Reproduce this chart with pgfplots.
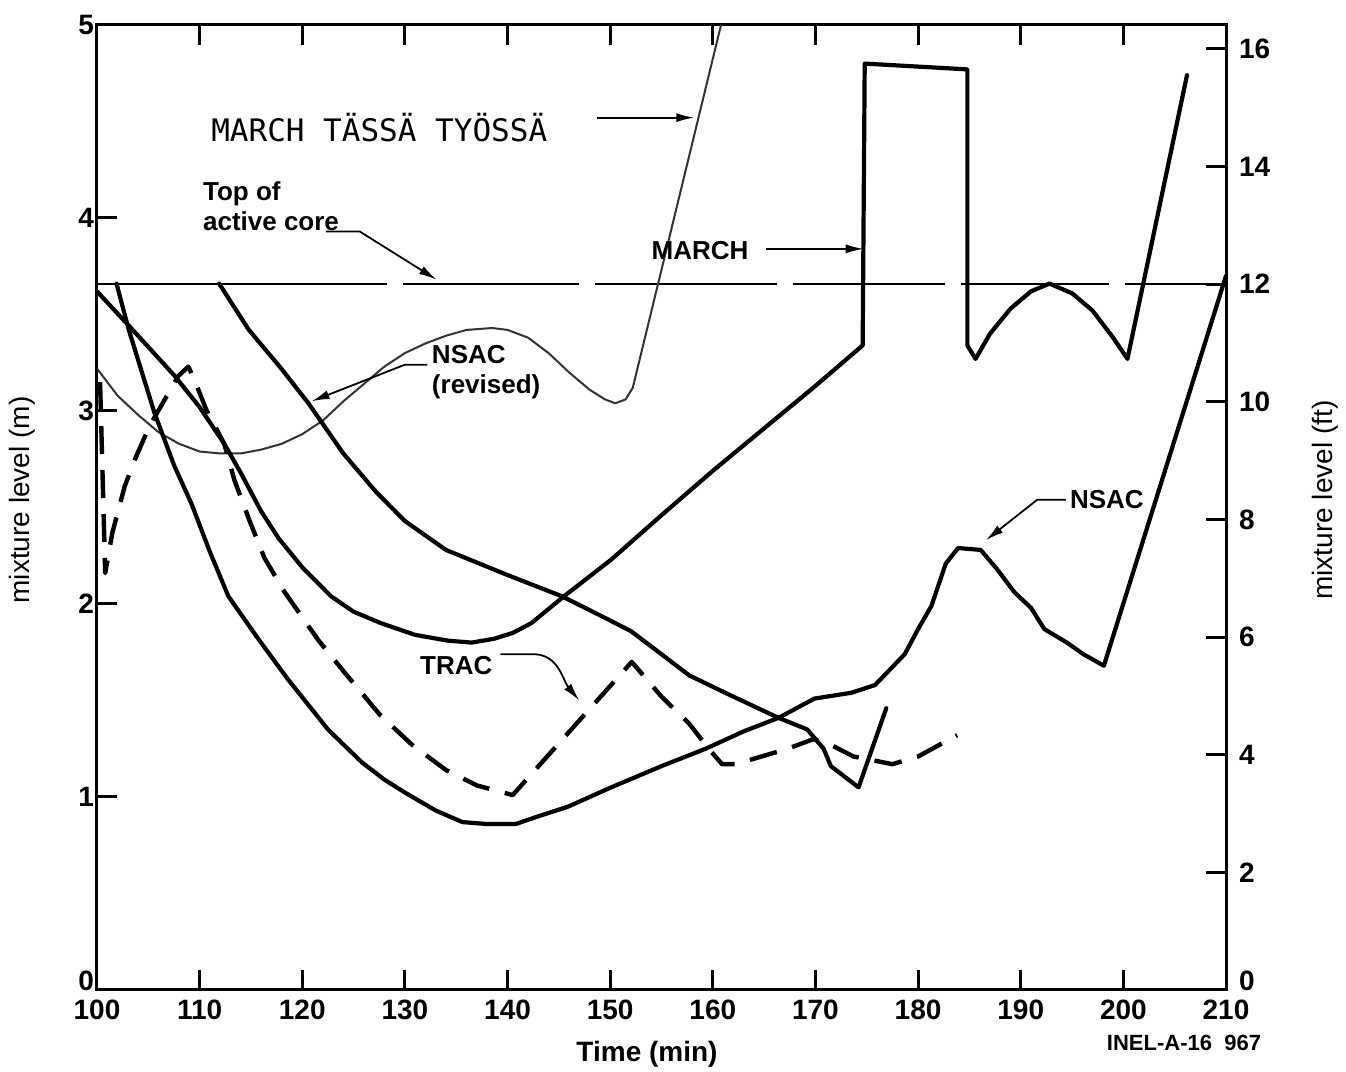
\documentclass[border=0pt]{standalone}
\usepackage{pgfplots}
\pgfplotsset{compat=1.18}
\usepackage{fontspec}
\setmainfont{Liberation Sans}
\newfontfamily\monofont{DejaVu Sans Mono}
\usetikzlibrary{arrows.meta}
\tikzset{
  thk/.style={black, line width=2.1pt, line join=round, line cap=round},
  thn/.style={black!80, line width=1pt, line join=round},
  ann/.style={black, line width=0.9pt, -{Latex[length=9pt,width=4.5pt]}},
  lbl/.style={font=\fontsize{13}{15}\selectfont\bfseries, inner sep=0pt, align=left},
}
\begin{document}
\begin{tikzpicture}
\path[use as bounding box] (-48.5pt,-41pt) rectangle (624.5pt,495pt);
\begin{axis}[
  at={(0pt,0pt)}, anchor=south west,
  scale only axis, width=564.5pt, height=482.5pt,
  xmin=100, xmax=210, ymin=0, ymax=5,
  xtick={100,110,...,210}, ytick={0,1,...,5},
  yticklabels={\raisebox{-0.5pt}[0pt][0pt]{0},1,2,3,4,5},
  xtick pos=both, xticklabel pos=bottom, ytick pos=left,
  tick align=inside,
  major tick length=10pt,
  every tick/.style={black, line width=1.5pt},
  axis line style={line width=1.5pt},
  ticklabel style={font=\fontsize{14}{14}\selectfont\bfseries},
  xticklabel style={yshift=-1.5pt},
  yticklabel style={xshift=2pt},
  /pgf/number format/assume math mode=true,
]
% top of active core
\addplot[black, line width=1.2pt, dash pattern=on 145pt off 8pt on 88pt off 8pt on 91pt off 8pt on 76pt off 8pt on 74pt off 8pt on 200pt off 0pt] coordinates {(100,3.658) (210,3.658)};
% NSAC revised (thin) + MARCH this work steep line
\addplot[thn] coordinates {
(100,3.22) (102,3.08) (104,2.98) (106,2.89) (108,2.83) (110,2.79) (112,2.78) (114,2.78)
(116,2.80) (118,2.83) (120,2.88) (122,2.95) (124,3.05) (126,3.14) (128,3.23) (130,3.30)
(132,3.35) (134,3.39) (136,3.42) (138.5,3.43) (140,3.42) (142,3.38) (144,3.30) (146,3.20)
(148,3.11) (149.5,3.06) (150.5,3.04) (151.5,3.06) (152.2,3.12) (160.8,5.0)};
% MARCH thick
\addplot[thk] coordinates {
(100,3.62) (104,3.39) (107.6,3.18) (110,3.02) (112.4,2.83) (114,2.68) (116,2.48) (117.7,2.34)
(120,2.19) (122.8,2.04) (125,1.96) (127.7,1.90) (131,1.84) (134.2,1.81) (136.5,1.80)
(138.7,1.82) (140.5,1.85) (142.3,1.90) (145.5,2.04) (150.1,2.23) (155,2.46) (160,2.69)
(165,2.91) (170,3.13) (174.6,3.34) (174.8,4.80) (184.8,4.77) (184.8,3.34) (185.6,3.27)
(187,3.40) (189,3.53) (191,3.62) (192.8,3.66) (195,3.61) (197,3.52) (199,3.38) (200.4,3.27)
(206.2,4.74)};
% NSAC thick (lowest early)
\addplot[thk] coordinates {
(101.9,3.66) (103.1,3.42) (105.6,2.99) (107.5,2.72) (109.2,2.52) (111,2.27) (112.8,2.04)
(115.7,1.82) (118.6,1.61) (122.5,1.35) (125.8,1.18) (128,1.09) (130.1,1.02)
(133,0.93) (135.6,0.87) (138,0.86) (140.8,0.86) (143,0.90) (145.9,0.95) (150.1,1.05)
(155,1.16) (159.3,1.25) (163,1.34) (166.4,1.41) (169.9,1.51) (173.5,1.54) (175.8,1.58)
(178.7,1.74) (180,1.87) (181.3,1.99) (182.7,2.21) (183.9,2.29) (186.1,2.28) (187.7,2.18)
(189.4,2.06) (191,1.98) (192.3,1.87) (194.5,1.80) (196.1,1.74) (198.1,1.68) (210,3.70)};
% third thick curve
\addplot[thk] coordinates {
(111.9,3.66) (114.8,3.42) (117.8,3.23) (120.6,3.04) (124,2.78) (127.2,2.58) (130,2.43)
(134,2.28) (140,2.15) (145.3,2.04) (149.8,1.92) (152,1.86)
(154.5,1.76) (157.7,1.63) (161.6,1.53) (166.4,1.41) (169.2,1.35) (170.8,1.25) (171.5,1.16)
(174.2,1.05) (176.9,1.46)};
% TRAC dashed
\addplot[black, line width=2.2pt, dash pattern=on 14pt off 8pt, line join=round] coordinates {
(100.3,3.15) (100.8,2.16) (101.5,2.37) (102.7,2.61) (103.7,2.75) (105.1,2.92) (107.9,3.18)
(108.9,3.23) (109.5,3.16) (110.7,3.00) (112.4,2.83) (113.4,2.64) (114.8,2.44) (116.3,2.24)
(118.3,2.06) (121.6,1.81) (124.2,1.64) (127.5,1.43) (130.7,1.27) (134,1.14) (137,1.06)
(140.5,1.01) (152.1,1.70) (155,1.52) (157.7,1.38) (159.6,1.25) (160.9,1.17) (162.2,1.17)
(167.3,1.25) (169.8,1.30) (171.5,1.27) (173.7,1.21) (177.5,1.17) (180,1.21) (183.8,1.32)};
% annotations
\node[font=\monofont\fontsize{15.5}{16}\selectfont, inner sep=0pt] at (axis cs:127.5,4.47) {MARCH TÄSSÄ TYÖSSÄ};
\draw[ann] (axis cs:148.7,4.52) -- (axis cs:158.2,4.52);
\node[lbl, anchor=north west] at (axis cs:110.3,4.19) {Top of\\active core};
\draw[ann] (axis cs:122.3,3.93) -- (axis cs:125.6,3.93) -- (axis cs:133.1,3.68);
\node[lbl, anchor=west] at (axis cs:154.0,3.83) {MARCH};
\draw[ann] (axis cs:165.2,3.84) -- (axis cs:174.7,3.84);
\node[lbl, anchor=north west] at (axis cs:132.6,3.34) {NSAC\\(revised)};
\draw[ann] (axis cs:132.2,3.24) -- (axis cs:130.0,3.24) -- (axis cs:120.9,3.05);
\node[lbl, anchor=center] at (axis cs:135.0,1.68) {TRAC};
\draw[ann] (axis cs:139.3,1.74) -- (axis cs:142.5,1.74) to[out=0,in=130] (axis cs:147.0,1.50);
\node[lbl, anchor=center] at (axis cs:198.4,2.54) {NSAC};
\draw[ann] (axis cs:194.4,2.54) -- (axis cs:191.6,2.54) -- (axis cs:186.6,2.33);
\end{axis}
\begin{axis}[
  at={(0pt,0pt)}, anchor=south west,
  scale only axis, width=564.5pt, height=482.5pt,
  xmin=100, xmax=210, ymin=0, ymax=16.4042,
  axis x line=none, axis y line*=right,
  ytick={0,2,...,16},
  yticklabels={\raisebox{-0.5pt}[0pt][0pt]{0},2,4,6,8,10,12,14,16},
  tick align=inside,
  major tick length=10pt,
  every tick/.style={black, line width=1.5pt},
  axis line style={line width=1.5pt},
  ticklabel style={font=\fontsize{14}{14}\selectfont\bfseries},
  yticklabel style={xshift=3pt},
  /pgf/number format/assume math mode=true,
]
\end{axis}
\node[rotate=90, font=\fontsize{14}{14}\selectfont] at (-37.5pt,245pt) {mixture level (m)};
\node[rotate=90, font=\fontsize{14}{14}\selectfont] at (614pt,245pt) {mixture level (ft)};
\node[font=\fontsize{14}{14}\selectfont\bfseries] at (275pt,-32pt) {Time (min)};
\node[font=\fontsize{11}{11}\selectfont\bfseries] at (543.5pt,-26.5pt) {INEL-A-16\ \ 967};
\end{tikzpicture}
\end{document}
